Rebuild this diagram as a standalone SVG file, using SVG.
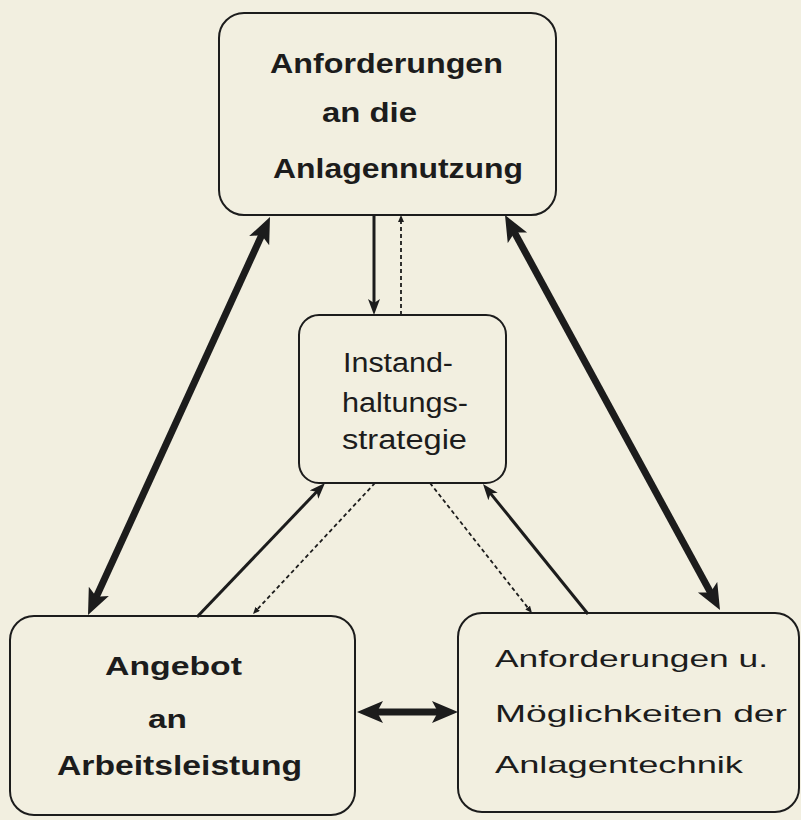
<svg xmlns="http://www.w3.org/2000/svg" width="801" height="820" viewBox="0 0 801 820">
<style>
.box{fill:none;stroke:#1c1c1c;stroke-width:2}
.b{font-family:"Liberation Sans",Arial,sans-serif;font-weight:bold;fill:#1c1c1c}
.r{font-family:"Liberation Sans",Arial,sans-serif;fill:#1c1c1c}
.thick{stroke:#1c1c1c;stroke-width:7;fill:none}
.mid{stroke:#1c1c1c;stroke-width:3;fill:none}
.dash{stroke:#1c1c1c;stroke-width:1.8;fill:none;stroke-dasharray:4 3}
</style>
<defs>
<marker id="big" markerUnits="userSpaceOnUse" markerWidth="27" markerHeight="23" refX="8" refY="11" orient="auto-start-reverse">
<path d="M0,0 L26,11 L0,22 L6,11 z" fill="#1c1c1c"/>
</marker>
<marker id="med" markerUnits="userSpaceOnUse" markerWidth="17" markerHeight="13" refX="5" refY="6" orient="auto-start-reverse">
<path d="M0,0 L16,6 L0,12 L4,6 z" fill="#1c1c1c"/>
</marker>
<marker id="sm" markerUnits="userSpaceOnUse" markerWidth="8" markerHeight="7" refX="2" refY="3" orient="auto-start-reverse">
<path d="M0,0 L7,3 L0,6 z" fill="#1c1c1c"/>
</marker>
</defs>
<rect width="801" height="820" fill="#f2efe0"/>
<g id="connectors">
<line class="thick" x1="262.5" y1="233.4" x2="95.5" y2="598.6" marker-start="url(#big)" marker-end="url(#big)"/>
<line class="thick" x1="513.6" y1="230.8" x2="711.4" y2="594.2" marker-start="url(#big)" marker-end="url(#big)"/>
<line class="thick" x1="375" y1="712" x2="440" y2="712" stroke-width="6" marker-start="url(#big)" marker-end="url(#big)"/>
<line class="mid" x1="374" y1="215" x2="374" y2="304" marker-end="url(#med)"/>
<line class="dash" x1="401" y1="315" x2="401" y2="220" marker-end="url(#sm)"/>
<line class="mid" x1="197" y1="617" x2="317.4" y2="491" marker-end="url(#med)"/>
<line class="dash" x1="375" y1="483" x2="256.4" y2="610.3" marker-end="url(#sm)"/>
<line class="dash" x1="430" y1="483" x2="528.9" y2="609.1" marker-end="url(#sm)"/>
<line class="mid" x1="588" y1="614" x2="489.9" y2="492.6" marker-end="url(#med)"/>
</g>
<g id="node-top">
<rect class="box" x="219" y="13" width="337" height="202" rx="25"/>
<text class="b" font-size="28" x="270" y="73" textLength="233" lengthAdjust="spacingAndGlyphs">Anforderungen</text>
<text class="b" font-size="28" x="322" y="122" textLength="95" lengthAdjust="spacingAndGlyphs">an die</text>
<text class="b" font-size="28" x="273" y="178" textLength="250" lengthAdjust="spacingAndGlyphs">Anlagennutzung</text>
</g>
<g id="node-middle">
<rect class="box" x="299" y="315" width="207" height="168" rx="20"/>
<text class="r" font-size="27" x="343" y="372" textLength="110" lengthAdjust="spacingAndGlyphs">Instand-</text>
<text class="r" font-size="27" x="342" y="412" textLength="126" lengthAdjust="spacingAndGlyphs">haltungs-</text>
<text class="r" font-size="27" x="342" y="449" textLength="125" lengthAdjust="spacingAndGlyphs">strategie</text>
</g>
<g id="node-left">
<rect class="box" x="10" y="616" width="345" height="199" rx="24"/>
<text class="b" font-size="26" x="105" y="675" textLength="137" lengthAdjust="spacingAndGlyphs">Angebot</text>
<text class="b" font-size="26" x="148" y="728" textLength="39" lengthAdjust="spacingAndGlyphs">an</text>
<text class="b" font-size="27" x="57" y="775" textLength="245" lengthAdjust="spacingAndGlyphs">Arbeitsleistung</text>
</g>
<g id="node-right">
<rect class="box" x="458" y="613" width="341" height="199" rx="24"/>
<text class="r" font-size="24" x="495" y="667" textLength="273" lengthAdjust="spacingAndGlyphs">Anforderungen u.</text>
<text class="r" font-size="24" x="495" y="722" textLength="292" lengthAdjust="spacingAndGlyphs">Möglichkeiten der</text>
<text class="r" font-size="24" x="495" y="773" textLength="248" lengthAdjust="spacingAndGlyphs">Anlagentechnik</text>
</g>
</svg>
